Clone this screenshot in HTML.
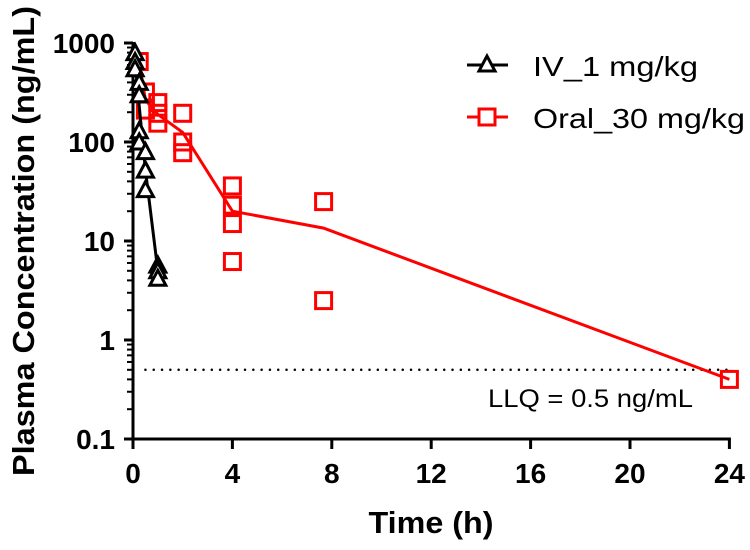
<!DOCTYPE html>
<html><head><meta charset="utf-8"><style>
body{margin:0;background:#fff}
svg text{font-family:"Liberation Sans",Arial,sans-serif}
</style></head><body>
<svg id="chart" width="750" height="545" viewBox="0 0 750 545" xmlns="http://www.w3.org/2000/svg">
<g id="axes"></g><g id="series"></g><g id="legend"></g>
</svg>
<script>
const xTicks=[0,4,8,12,16,20,24];
const yTicks=[0.1,1,10,100,1000];
const yTickLabels=["0.1","1","10","100","1000"];
const ivTimes=[0.083,0.083,0.083,0.25,0.25,0.25,0.25,0.5,0.5,0.5,1,1,1];
const ivValues=[800,650,550,400,300,130,100,80,52,33,5.7,5.0,4.2];
const ivMeanTimes=[0.083,0.25,0.5,1];
const ivMeanValues=[650,230,52,5];
const oralTimes=[0.25,0.5,0.5,1,1,1,2,2,2,4,4,4,4,7.67,7.67,24];
const oralValues=[650,320,210,250,195,155,195,100,78,36,23,15,6.2,25,2.5,0.4];
const oralMeanTimes=[0.25,0.5,1,2,4,7.67,24];
const oralMeanValues=[650,265,190,125,20,13.5,0.4];
const llq=0.5;

const NS="http://www.w3.org/2000/svg";
const X0=133,XS=24.85,YB=439,DEC=99;
const xs=t=>X0+t*XS;
const ys=v=>YB-DEC*(Math.log10(v)+1);
function mk(tag,attrs,parent){const e=document.createElementNS(NS,tag);for(const k in attrs)e.setAttribute(k,attrs[k]);parent.appendChild(e);return e;}
const axes=document.getElementById('axes'),series=document.getElementById('series'),legend=document.getElementById('legend');

let ya=mk('line',{x1:X0,y1:ys(1000)-1,x2:X0,y2:YB+2,stroke:'#000','stroke-width':3},axes);


let xa=mk('line',{x1:X0-8,y1:YB,x2:xs(24)+1.5,y2:YB,stroke:'#000','stroke-width':3},axes);



yTicks.forEach((v,i)=>{
  let t=mk('line',{x1:X0-9,y1:ys(v),x2:X0,y2:ys(v),stroke:'#000','stroke-width':3},axes);
  
  
  let l=mk('text',{x:X0-18,y:ys(v)+10,'text-anchor':'end','font-size':28,'font-weight':'bold'},axes);
  l.textContent=yTickLabels[i];
  
  
  if(i<yTicks.length-1){for(let m=2;m<=9;m++){
    let mt=mk('line',{x1:X0-6,y1:ys(v*m),x2:X0,y2:ys(v*m),stroke:'#000','stroke-width':2},axes);
    
    
  }}
});
xTicks.forEach(t=>{
  let tk=mk('line',{x1:xs(t),y1:YB,x2:xs(t),y2:YB+10,stroke:'#000','stroke-width':3},axes);
  
  
  let l=mk('text',{x:xs(t),y:YB+44,'text-anchor':'middle','font-size':28,'font-weight':'bold'},axes);
  l.textContent=String(t);
  
  
});
let xt=mk('text',{x:431,y:533,'text-anchor':'middle','font-size':31,'font-weight':'bold',textLength:125,lengthAdjust:'spacingAndGlyphs'},axes);
xt.textContent='Time (h)';


let yt=mk('text',{x:0,y:0,transform:'translate(34,241) rotate(-90)','text-anchor':'middle','font-size':31,'font-weight':'bold',textLength:470,lengthAdjust:'spacingAndGlyphs'},axes);
yt.textContent='Plasma Concentration (ng/mL)';



let ll=mk('line',{x1:xs(0.5),y1:ys(llq),x2:xs(24),y2:ys(llq),stroke:'#000','stroke-width':2.5,'stroke-dasharray':'0 8.3','stroke-linecap':'round'},series);


let lt=mk('text',{x:488,y:407,'font-size':25,textLength:205,lengthAdjust:'spacingAndGlyphs'},series);
lt.textContent='LLQ = 0.5 ng/mL';



let op=mk('polyline',{points:oralMeanTimes.map((t,i)=>xs(t)+','+ys(oralMeanValues[i])).join(' '),fill:'none',stroke:'#f00','stroke-width':3},series);


oralTimes.forEach((t,i)=>{
  let s=mk('rect',{x:xs(t)-8,y:ys(oralValues[i])-8,width:16,height:16,fill:'none',stroke:'#f00','stroke-width':3},series);
  
  
});
let ip=mk('polyline',{points:ivMeanTimes.map((t,i)=>xs(t)+','+ys(ivMeanValues[i])).join(' '),fill:'none',stroke:'#000','stroke-width':3},series);


function tri(cx,cy){return (cx)+','+(cy-8)+' '+(cx-8)+','+(cy+7)+' '+(cx+8)+','+(cy+7);}
ivTimes.forEach((t,i)=>{
  let p=mk('polygon',{points:tri(xs(t),ys(ivValues[i])),fill:'#fff',stroke:'#000','stroke-width':3},series);
  
  
});

let g1=mk('g',{},legend);


mk('line',{x1:467,y1:65,x2:508,y2:65,stroke:'#000','stroke-width':3},g1);
mk('polygon',{points:tri(487,64),fill:'#fff',stroke:'#000','stroke-width':3},g1);
let t1=mk('text',{x:533,y:76,'font-size':28,textLength:165,lengthAdjust:'spacingAndGlyphs'},g1);t1.textContent='IV_1 mg/kg';
let g2=mk('g',{},legend);


mk('line',{x1:467,y1:117,x2:508,y2:117,stroke:'#f00','stroke-width':3},g2);
mk('rect',{x:479,y:109,width:16,height:16,fill:'#fff',stroke:'#f00','stroke-width':3},g2);
let t2=mk('text',{x:533,y:128,'font-size':28,textLength:212,lengthAdjust:'spacingAndGlyphs'},g2);t2.textContent='Oral_30 mg/kg';
</script>
</body></html>
